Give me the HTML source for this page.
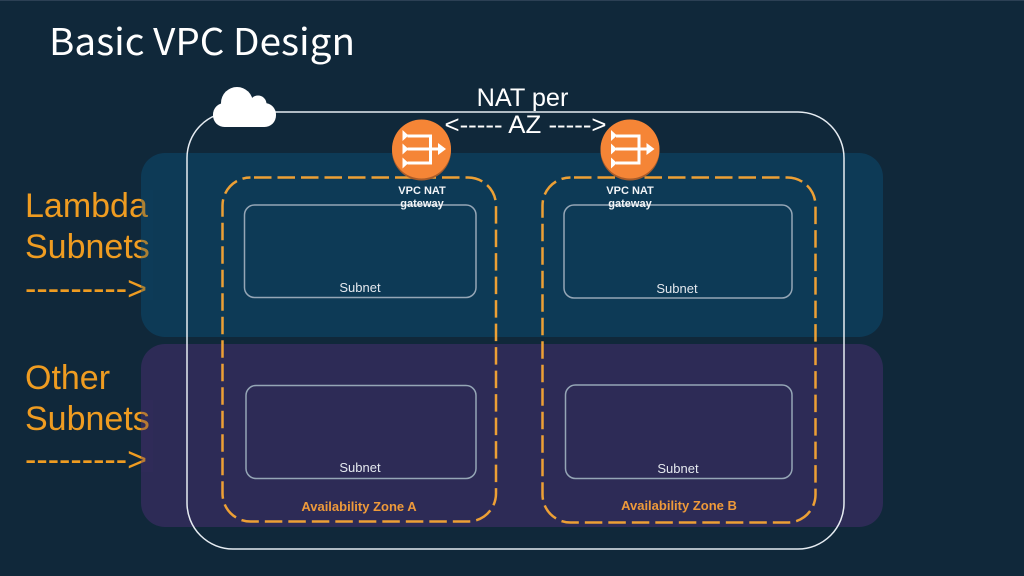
<!DOCTYPE html>
<html><head><meta charset="utf-8"><style>
html,body{margin:0;padding:0;background:#10283a}
svg{display:block}
text{font-family:"Liberation Sans",sans-serif}
</style></head><body>
<svg width="1024" height="576" viewBox="0 0 1024 576" xmlns="http://www.w3.org/2000/svg">
<defs>
<g id="nat">
<circle cx="0" cy="2" r="29.5" fill="#a85c2a"/>
<circle cx="0" cy="0" r="29.5" fill="#f58536"/>
<g fill="none" stroke="#fff" stroke-width="3">
<path d="M-14 -13H9V14H-14"/>
<path d="M-14 0H18"/>
</g>
<g fill="#fff">
<path d="M-19 -19L-13 -13.500L-19 -8Z"/>
<path d="M-19 -5.500L-13 0L-19 5.500Z"/>
<path d="M-19 8.500L-13 14L-19 19.500Z"/>
<path d="M16.500 -6L24.500 0L16.500 6Z"/>
</g>
</g>
</defs>
<rect width="1024" height="576" fill="#10283a"/>
<rect x="0" y="0" width="1024" height="1" fill="#2c4054"/>

<rect x="141" y="153" width="742" height="184" rx="24" fill="#0c3f5e" fill-opacity="0.8"/>
<rect x="141" y="344" width="742" height="183" rx="24" fill="#342c5e" fill-opacity="0.8"/>

<g font-size="34" fill="#ef9c21">
<text x="25" y="217">Lambda</text>
<text x="25" y="258">Subnets</text>
<text x="25" y="300" textLength="122" lengthAdjust="spacingAndGlyphs">---------&gt;</text>
<text x="25" y="389">Other</text>
<text x="25" y="430">Subnets</text>
<text x="25" y="471" textLength="122" lengthAdjust="spacingAndGlyphs">---------&gt;</text>
</g>
<rect x="141" y="190" width="12" height="110" fill="#0c3f5e" fill-opacity="0.3"/>
<rect x="141" y="400" width="12" height="72" fill="#342c5e" fill-opacity="0.3"/>

<text x="49" y="55" font-size="37" fill="#fff" textLength="306" lengthAdjust="spacingAndGlyphs" style="font-family:'Noto Sans CJK SC','Liberation Sans',sans-serif">Basic VPC Design</text>

<rect x="187" y="112" width="657" height="437" rx="46" fill="none" stroke="#e6ecf2" stroke-width="1.500"/>
<g fill="#fff">
<circle cx="237" cy="103" r="16"/>
<circle cx="258" cy="104" r="8.500"/>
<rect x="213" y="103" width="63" height="24" rx="11.500"/>
</g>

<text x="522.500" y="106" font-size="25.300" fill="#fff" text-anchor="middle">NAT per</text>
<text x="525.500" y="133" font-size="25" fill="#fff" text-anchor="middle" textLength="162" lengthAdjust="spacingAndGlyphs">&lt;----- AZ -----&gt;</text>

<g fill="none" stroke="#95a6b6" stroke-width="1.500">
<rect x="244.500" y="205" width="231.500" height="92.500" rx="10"/>
<rect x="564" y="205" width="228" height="93" rx="10"/>
<rect x="246" y="385.500" width="230" height="93" rx="10"/>
<rect x="565.500" y="385" width="226.500" height="93.500" rx="10"/>
</g>

<g fill="none" stroke="#eda035" stroke-width="2.500" stroke-dasharray="17.500 6" stroke-dashoffset="-3.500">
<rect x="222.500" y="177.500" width="273.500" height="344" rx="28"/>
<rect x="542.500" y="177.500" width="273" height="345" rx="28"/>
</g>

<use href="#nat" x="421.500" y="149"/>
<use href="#nat" x="630" y="149"/>

<g font-size="11" font-weight="700" fill="#f2f4f7" text-anchor="middle">
<text x="422" y="194">VPC NAT</text>
<text x="422" y="207">gateway</text>
<text x="630" y="194">VPC NAT</text>
<text x="630" y="207">gateway</text>
</g>
<g font-size="13" fill="#e4e8ee" text-anchor="middle">
<text x="360" y="292">Subnet</text>
<text x="677" y="293">Subnet</text>
<text x="360" y="472">Subnet</text>
<text x="678" y="473">Subnet</text>
</g>
<g font-size="13" font-weight="700" fill="#ee9a3a" text-anchor="middle">
<text x="359" y="511">Availability Zone A</text>
<text x="679" y="510">Availability Zone B</text>
</g>
</svg>
</body></html>
